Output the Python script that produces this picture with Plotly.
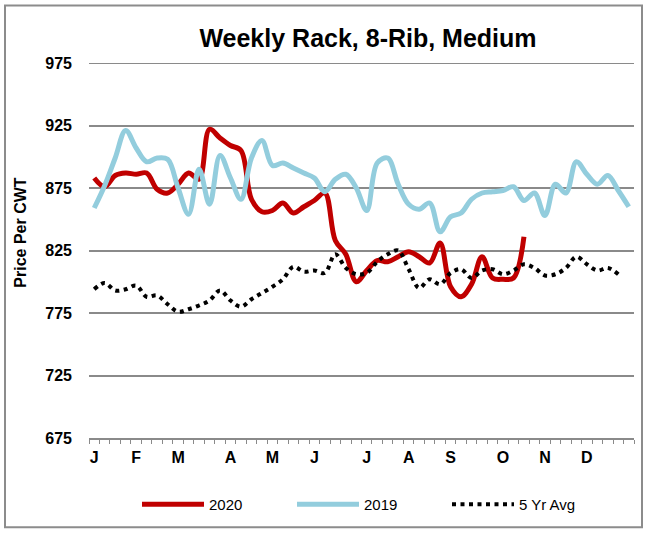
import plotly.graph_objects as go

# Week index (category positions)
weeks = list(range(52))

month_labels = ["J", "F", "M", "A", "M", "J", "J", "A", "S", "O", "N", "D"]
month_weeks = [0, 4, 8, 13, 17, 21, 26, 30, 34, 39, 43, 47]

y2020 = [883, 876, 885, 887, 886, 887, 874, 871, 878, 887, 882, 922,
         915, 909, 905, 866, 856, 857, 863, 855, 860, 865, 871, 833,
         822, 800, 809, 817, 816, 820, 824, 820, 815, 831, 796, 788,
         798, 820, 803, 802, 803, 836]

y2019 = [859, 877, 899, 921, 907, 896, 899, 898, 875, 854, 890, 862,
         901, 883, 866, 899, 913, 893, 895, 891, 887, 883, 872, 882,
         886, 875, 857, 895, 899, 878, 862, 858, 863, 840, 852, 855,
         866, 871, 872, 873, 876, 865, 871, 853, 878, 871, 896, 886,
         878, 885, 873, 860]

avg5 = [794, 799, 793, 794, 797, 788, 789, 782, 776, 778, 781, 785,
        793, 785, 780, 786, 791, 796, 802, 812, 808, 809, 807, 822,
        811, 806, 807, 816, 822, 825, 810, 795, 802, 798, 807, 810,
        803, 809, 810, 806, 809, 814, 811, 805, 806, 811, 820, 814,
        809, 811, 806]

y_ticks = [675, 725, 775, 825, 875, 925, 975]

FONT = "Liberation Sans, Arial, sans-serif"
GRID = "#8a8a8a"

fig = go.Figure()
fig.add_trace(go.Scatter(
    x=weeks[:len(y2020)], y=y2020, name="2020", mode="lines",
    line=dict(color="#C00000", width=5, shape="spline", smoothing=1.0)))
fig.add_trace(go.Scatter(
    x=weeks[:len(y2019)], y=y2019, name="2019", mode="lines",
    line=dict(color="#93CDDD", width=5, shape="spline", smoothing=1.0)))
fig.add_trace(go.Scatter(
    x=weeks[:len(avg5)], y=avg5, name="5 Yr Avg", mode="lines",
    line=dict(color="#000000", width=4, dash="4px,4.5px", shape="spline", smoothing=1.0)))

L, R, T, B = 89, 12, 63, 92
W, H = 646, 533
pw = W - L - R
ph = H - T - B

def px_to_paper_x(px):
    return (px - L) / pw

def px_to_paper_y(py):
    return (H - B - py) / ph

fig.update_layout(
    width=W, height=H,
    margin=dict(l=L, r=R, t=T, b=B, pad=0),
    paper_bgcolor="white", plot_bgcolor="white",
    font=dict(family=FONT, color="black"),
    title=dict(text="<b>Weekly Rack, 8-Rib, Medium</b>",
               font=dict(size=25, family=FONT, color="black"),
               x=368 / W, xanchor="center", xref="container",
               y=1 - 38 / H, yanchor="middle", yref="container"),
    showlegend=True,
    legend=dict(orientation="h", x=px_to_paper_x(137), xanchor="left",
                y=px_to_paper_y(508), yanchor="middle",
                font=dict(size=15, family=FONT, color="black"),
                itemwidth=62, entrywidth=78,
                bgcolor="rgba(0,0,0,0)", traceorder="normal"),
    xaxis=dict(range=[-0.5, 51.5], tickmode="array", tickvals=month_weeks,
               ticktext=[f"<b>{m}</b>" for m in month_labels],
               ticks="", showgrid=False, zeroline=False,
               showline=True, linecolor=GRID, linewidth=2,
               tickfont=dict(size=16, family=FONT, color="black"),
               ticklabelstandoff=4,
               minor=dict(ticks="outside", tick0=-0.5, dtick=1, ticklen=4,
                          tickcolor=GRID, tickwidth=1, showgrid=False)),
    yaxis=dict(range=[675, 975], tickmode="array", tickvals=y_ticks,
               ticktext=[f"<b>{v}</b>" for v in y_ticks],
               showgrid=True, gridcolor=GRID, gridwidth=2,
               zeroline=False, showline=False, ticks="",
               tickfont=dict(size=16, family=FONT, color="black"),
               ticklabelstandoff=16),
    annotations=[dict(text="<b>Price Per CWT</b>", textangle=-90,
                      x=px_to_paper_x(21), y=px_to_paper_y(234),
                      xref="paper", yref="paper", showarrow=False,
                      xanchor="center", yanchor="middle",
                      font=dict(size=16, family=FONT, color="black"))],
    shapes=[
        dict(type="rect", xref="paper", yref="paper",
             x0=px_to_paper_x(5), x1=px_to_paper_x(642),
             y0=px_to_paper_y(531), y1=px_to_paper_y(5),
             line=dict(color="#8c8c8c", width=2), layer="below"),
        dict(type="line", xref="paper", yref="y", x0=0, x1=1,
             y0=y_ticks[-1], y1=y_ticks[-1],
             line=dict(color=GRID, width=2), layer="below"),
    ],
)

fig.write_html("out.html",
               config={"displayModeBar": False},
               post_script="document.body.style.margin='0';document.body.style.overflow='hidden';")
